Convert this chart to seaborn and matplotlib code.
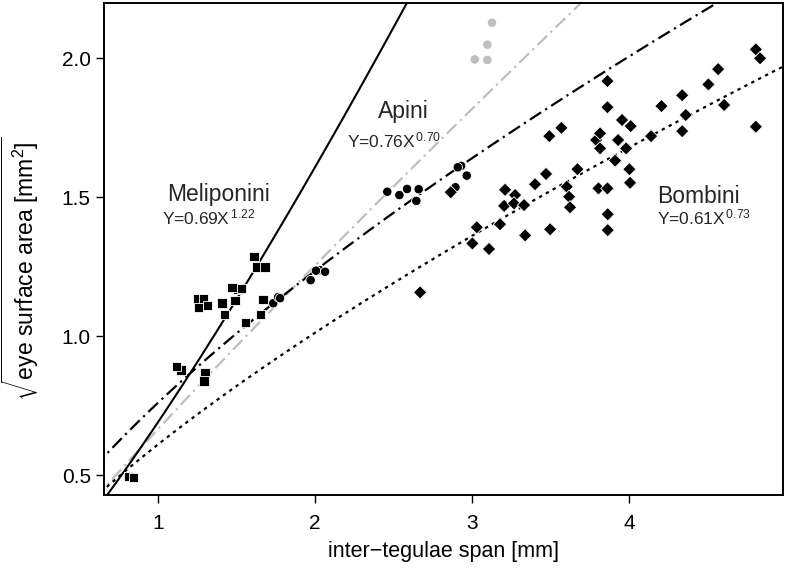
import numpy as np
import pandas as pd
import matplotlib
matplotlib.use("Agg")
import matplotlib.pyplot as plt
import seaborn as sns

# ---------------- data ----------------
meli_x = [1.611, 1.629, 1.680, 1.505, 1.470, 1.530, 1.250, 1.257, 1.290, 1.314, 1.408, 1.490,
          1.422, 1.669, 1.558, 1.654, 1.146, 1.119, 1.299, 1.293, 0.814, 0.843]
meli_y = [1.285, 1.249, 1.249, 1.168, 1.175, 1.170, 1.133, 1.103, 1.135, 1.110, 1.118, 1.127,
          1.077, 1.132, 1.049, 1.078, 0.878, 0.890, 0.869, 0.838, 0.495, 0.492]

apini_x = [1.734, 1.765, 1.777, 1.972, 2.030, 2.006, 2.064, 2.460, 2.537, 2.586, 2.660, 2.645,
           2.930, 2.909, 2.966, 2.894]
apini_y = [1.118, 1.140, 1.136, 1.201, 1.237, 1.235, 1.231, 1.519, 1.507, 1.529, 1.528, 1.486,
           1.612, 1.607, 1.577, 1.535]

apini_grey_x = [3.127, 3.097, 3.017, 3.097]
apini_grey_y = [2.127, 2.048, 1.995, 1.993]

bomb_x = [2.864, 2.669, 3.030, 3.002, 3.108, 3.178, 3.210, 3.204, 3.274, 3.267, 3.331, 3.338,
          3.497, 3.401, 3.471, 3.603, 3.618, 3.624, 3.671, 3.492, 3.569, 3.805, 3.862, 3.864,
          3.864, 3.911, 4.002, 4.006, 3.981, 3.790, 3.815, 3.815, 3.930, 3.955, 4.010, 3.862,
          3.862, 4.140, 4.206, 4.338, 4.361, 4.338, 4.505, 4.567, 4.605, 4.807, 4.834, 4.807]
bomb_y = [1.517, 1.157, 1.391, 1.333, 1.313, 1.402, 1.526, 1.468, 1.507, 1.477, 1.471, 1.362,
          1.384, 1.546, 1.583, 1.537, 1.501, 1.463, 1.600, 1.719, 1.749, 1.531, 1.531, 1.438,
          1.381, 1.631, 1.600, 1.551, 1.675, 1.705, 1.675, 1.729, 1.705, 1.777, 1.755, 1.823,
          1.917, 1.719, 1.827, 1.866, 1.795, 1.737, 1.905, 1.960, 1.831, 2.031, 1.999, 1.753]

# fitted power laws Y = a * X^b
fit_meli = (0.69, 1.22)
fit_apini = (0.76, 0.70)
fit_bomb = (0.61, 0.73)
fit_grey = (0.665, 0.915)

x_ticks = [1, 2, 3, 4]
y_ticks = [0.5, 1.0, 1.5, 2.0]
y_tick_labels = ["0.5", "1.0", "1.5", "2.0"]

# ---------------- styling ----------------
sns.set_theme(style="ticks")
plt.rcParams["font.family"] = ["Liberation Sans", "DejaVu Sans"]
plt.rcParams["mathtext.fontset"] = "custom"
plt.rcParams["mathtext.rm"] = "Liberation Sans"
plt.rcParams["mathtext.it"] = "Liberation Sans:italic"
plt.rcParams["mathtext.bf"] = "Liberation Sans:bold"

df = pd.concat([
    pd.DataFrame({"x": meli_x, "y": meli_y, "tribe": "Meliponini"}),
    pd.DataFrame({"x": apini_x, "y": apini_y, "tribe": "Apini"}),
    pd.DataFrame({"x": apini_grey_x, "y": apini_grey_y, "tribe": "Apini (grey)"}),
    pd.DataFrame({"x": bomb_x, "y": bomb_y, "tribe": "Bombini"}),
], ignore_index=True)

fig = plt.figure(figsize=(7.89, 5.83), dpi=100)
ax = fig.add_axes([0.1318, 0.1509, 0.8606, 0.8440])

# fitted curves
xs = np.linspace(0.6, 5.1, 300)
dashdot = (0, (6.0, 2.2, 1.0, 2.2))
line_specs = [
    (fit_grey, "#bebebe", dashdot, 1.6),
    (fit_bomb, "black", (0, (1.5, 2.0)), 1.6),
    (fit_apini, "black", dashdot, 1.6),
    (fit_meli, "black", "-", 1.5),
]
for (a, b), col, ls, lw in line_specs:
    sns.lineplot(x=xs, y=a * xs ** b, ax=ax, color=col, linestyle=ls, linewidth=lw,
                 legend=False, zorder=2)

sns.scatterplot(data=df, x="x", y="y", hue="tribe", style="tribe",
                palette={"Meliponini": "black", "Apini": "black",
                         "Apini (grey)": "#bebebe", "Bombini": "black"},
                markers={"Meliponini": "s", "Apini": "o",
                         "Apini (grey)": "o", "Bombini": "D"},
                s=46, edgecolor="white", linewidth=0.6, legend=False, ax=ax, zorder=3)

ax.set_xlim(0.656, 4.98)
ax.set_ylim(0.428, 2.198)
ax.set_xticks(x_ticks)
ax.set_xticklabels([str(t) for t in x_ticks])
ax.set_yticks(y_ticks)
ax.set_yticklabels(y_tick_labels)
ax.tick_params(axis="both", direction="out", length=5.5, width=1.0, color="black",
               labelsize=15, labelcolor="black", pad=4)
ax.tick_params(axis="x", pad=8)
for sp in ax.spines.values():
    sp.set_visible(True)
    sp.set_color("black")
    sp.set_linewidth(1.4)

ax.set_xlabel("inter\u2212tegulae span [mm]", fontsize=15.5, color="black", labelpad=6)
ax.set_ylabel(r"$\sqrt{\mathrm{eye\ surface\ area\ [mm^2]}}$", fontsize=16.5,
              color="black")
ax.yaxis.set_label_coords(-0.093, 0.46)

# annotations
ax.text(1.385, 1.486, "Meliponini", fontsize=16.5, ha="center", va="baseline")
ax.text(1.025, 1.400, r"Y=0.69X$^{\,1.22}$", fontsize=12.5, ha="left", va="baseline")
ax.text(2.561, 1.784, "Apini", fontsize=16.5, ha="center", va="baseline")
ax.text(2.204, 1.680, r"Y=0.76X$^{\,0.70}$", fontsize=12.5, ha="left", va="baseline")
ax.text(4.443, 1.478, "Bombini", fontsize=16.5, ha="center", va="baseline")
ax.text(4.178, 1.400, r"Y=0.61X$^{\,0.73}$", fontsize=12.5, ha="left", va="baseline")

fig.savefig("out.png", dpi=100)
